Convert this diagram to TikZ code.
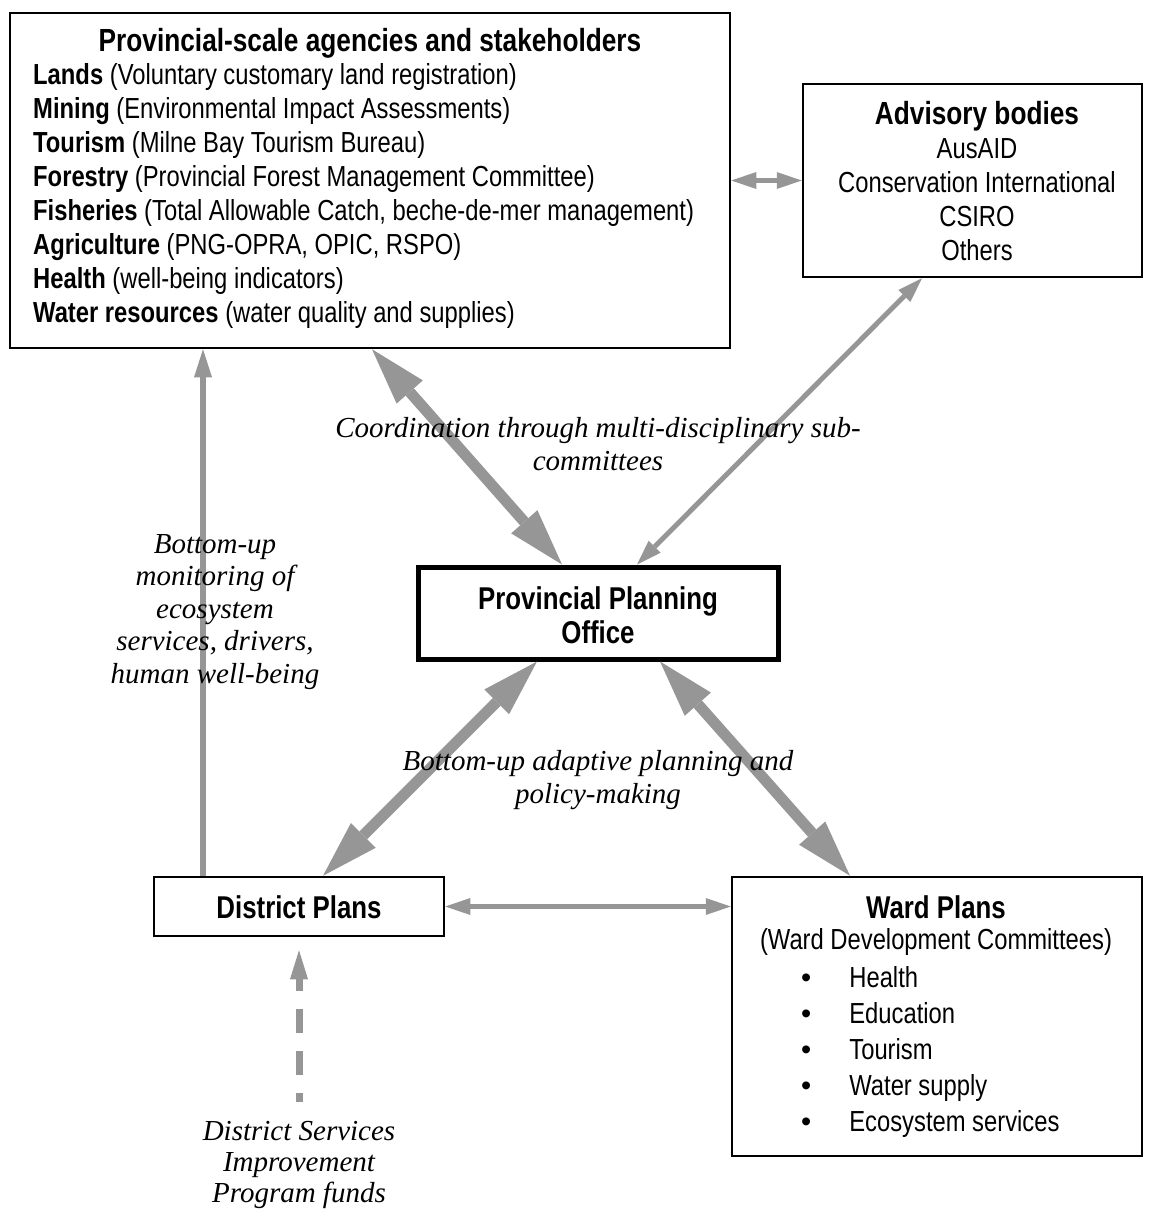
\documentclass[tikz,border=0pt]{standalone}
\usepackage{fontspec}
\setmainfont{Liberation Sans}[FakeStretch=0.82]
\newfontfamily\plainsans{Liberation Sans}
\newfontfamily\labelfont{Liberation Serif}
\usetikzlibrary{arrows.meta}
\definecolor{linkgray}{RGB}{150,150,150}
\tikzset{
  panel/.style={draw, line width=2.5pt, inner sep=0pt},
  body/.style={font=\fontsize{29}{34}\selectfont, inner sep=0pt},
  bigbody/.style={font=\fontsize{31.5}{34}\selectfont\bfseries, inner sep=0pt},
  note/.style={font=\labelfont\itshape\fontsize{29}{33}\selectfont, align=center, inner sep=0pt},
  heavylink/.style={linkgray, line width=11pt,
    {Triangle[length=57pt,width=35pt,line width=0pt]}-{Triangle[length=57pt,width=35pt,line width=0pt]}},
  lightlink/.style={linkgray, line width=5pt,
    {Triangle[length=25pt,width=17pt,line width=0pt]}-{Triangle[length=25pt,width=17pt,line width=0pt]}},
  uplink/.style={linkgray, line width=6pt, -{Triangle[length=28pt,width=18pt,line width=0pt]}},
  fundlink/.style={linkgray, line width=7pt, dash pattern=on 24pt off 18pt, dash phase=12pt,
    {Triangle[length=29pt,width=18pt,line width=0pt]}-}
}
\begin{document}
\begin{tikzpicture}[x=1pt,y=-1pt]
\useasboundingbox (0,0) rectangle (1149,1212);

% boxes
\node[panel, minimum width=720pt, minimum height=335pt] (prov) at (370,180.5) {};
\node[panel, minimum width=339pt, minimum height=193pt] (adv) at (972.5,180.5) {};
\node[panel, line width=5pt, minimum width=360pt, minimum height=92pt] (ppo) at (598,613) {};
\node[panel, minimum width=290pt, minimum height=59pt] (dist) at (299,906.5) {};
\node[panel, minimum width=410pt, minimum height=279pt] (ward) at (937,1016.5) {};
\coordinate (fund) at (299,1102);

% connectors
\draw[heavylink] ([xshift=2pt]prov.south) -- ([xshift=-36pt]ppo.north);
\draw[lightlink] ([xshift=-50.5pt]adv.south) -- ([xshift=39pt]ppo.north);
\draw[lightlink] (prov.east) -- (adv.west);
\draw[uplink] ([xshift=-96pt]dist.north) -- ([xshift=-167pt]prov.south);
\draw[heavylink] ([xshift=-61pt]ppo.south) -- ([xshift=24pt]dist.north);
\draw[heavylink] ([xshift=62pt]ppo.south) -- ([xshift=-87pt]ward.north);
\draw[lightlink] (dist.east) -- (dist.east -| ward.west);
\draw[fundlink] ([yshift=-13pt]dist.south) -- (fund);

% box texts
\node[body, font=\fontsize{32}{34}\selectfont\bfseries] (provtitle) at (370,43) {Provincial-scale agencies and stakeholders};
\node[body, align=left, anchor=west] (provlist) at (33,196) {%
\textbf{Lands} (Voluntary customary land registration)\\
\textbf{Mining} (Environmental Impact Assessments)\\
\textbf{Tourism} (Milne Bay Tourism Bureau)\\
\textbf{Forestry} (Provincial Forest Management Committee)\\
\textbf{Fisheries} (Total Allowable Catch, beche-de-mer management)\\
\textbf{Agriculture} (PNG-OPRA, OPIC, RSPO)\\
\textbf{Health} (well-being indicators)\\
\textbf{Water resources} (water quality and supplies)};
\node[body, align=center] (advtext) at (977,181) {{\fontsize{32}{34}\selectfont\bfseries Advisory bodies}\\AusAID\\Conservation International\\CSIRO\\Others};
\node[bigbody, align=center] (ppotext) at (598,615) {Provincial Planning\\Office};
\node[bigbody] (disttext) at (299,907) {District Plans};
\node[bigbody] (wardtitle) at (936,907) {Ward Plans};
\node[body] (wardsub) at (936,942) {(Ward Development Committees)};
\node[body, anchor=west, font=\fontsize{29}{36}\selectfont] (wardlist) at (801,1052) {%
\begin{tabular}{@{}c@{\hspace{38pt}}l@{}}
{\plainsans\textbullet} & Health\\
{\plainsans\textbullet} & Education\\
{\plainsans\textbullet} & Tourism\\
{\plainsans\textbullet} & Water supply\\
{\plainsans\textbullet} & Ecosystem services
\end{tabular}};

% connector labels
\node[note] (coordnote) at (598,444.5) {Coordination through multi-disciplinary sub-\\committees};
\node[note, font=\labelfont\itshape\fontsize{29}{32.5}\selectfont] (monnote) at (215,612) {Bottom-up\\monitoring of\\ecosystem\\services, drivers,\\human well-being};
\node[note] (plannote) at (598,780) {Bottom-up adaptive planning and\\policy-making};
\node[note, font=\labelfont\itshape\fontsize{29}{31}\selectfont] (fundnote) at (299,1165) {District Services\\Improvement\\Program funds};
\end{tikzpicture}
\end{document}
